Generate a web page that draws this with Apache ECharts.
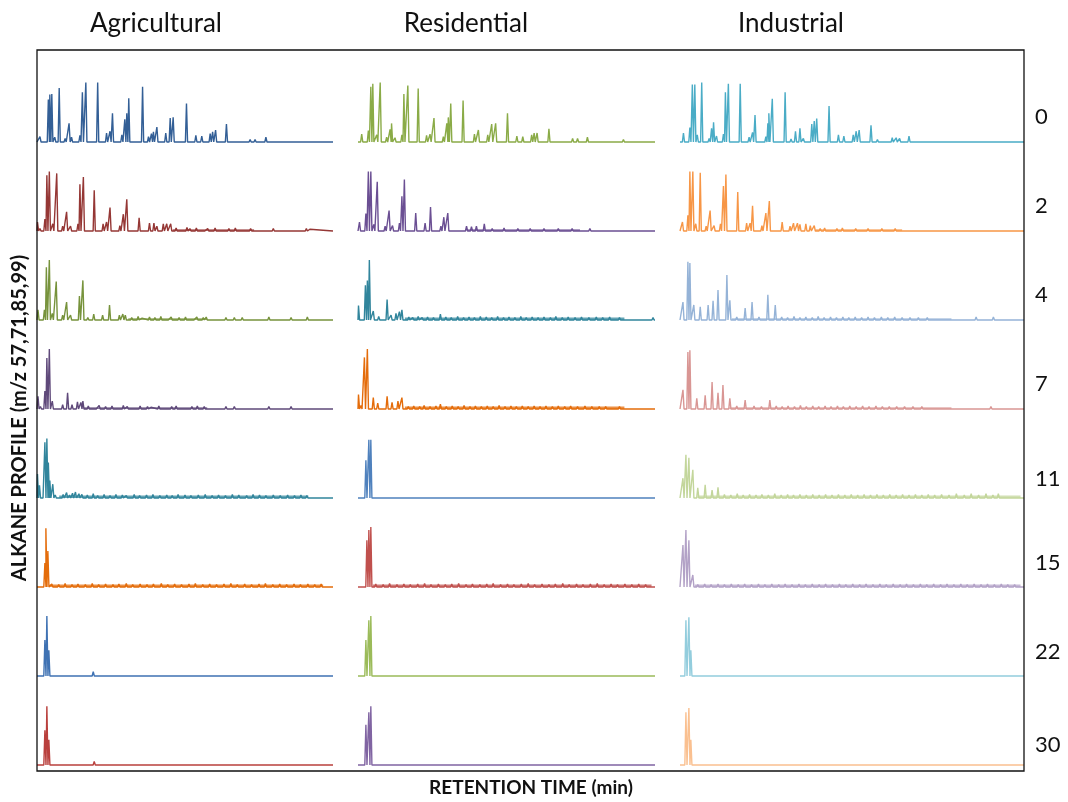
<!DOCTYPE html>
<html><head><meta charset="utf-8">
<script src="https://cdn.jsdelivr.net/npm/echarts@6/dist/echarts.min.js"></script>
<style>html,body{margin:0;padding:0;background:#fff}#c{width:1068px;height:802px}</style>
</head><body><div id="c"></div>
<script>
// Column (land use) and row (day) labels
const landUses = ['Agricultural', 'Residential', 'Industrial'];
const days = ['0', '2', '4', '7', '11', '15', '22', '30'];
const yTitle = 'ALKANE PROFILE (m/z 57,71,85,99)';
const xTitle = 'RETENTION TIME (min)';

// Peaks: [retention time (min), relative abundance (% of panel max)]
// ---- Agricultural ----
const agr0 = [[0.6,9],[2.3,71],[2.6,79],[3.0,80],[3.6,8],[4.5,90],[5.7,6],[6.5,31],[7.0,8],[8.7,11],[9.2,83],[9.9,99],[12.3,99],[14.1,15],[14.8,18],[15.3,48],[17.2,12],[17.8,38],[18.2,48],[18.6,73],[21.4,92],[22.6,9],[23.2,14],[23.6,17],[24.3,25],[26.1,15],[27.0,40],[27.6,41],[30.3,64],[32.2,11],[33.4,10],[35.1,14],[35.6,17],[36.2,20],[38.4,30],[40.1,3],[41.5,2],[43.2,4],[44.2,4],[46.4,8],[48.0,3],[50.0,2],[52.0,3],[54.0,2],[55.5,2],[57.0,2]];
const agr2 = [[0.1,15],[0.6,4],[1.6,20],[2.0,93],[2.5,99],[3.2,12],[4.0,96],[5.2,8],[6.0,32],[6.8,8],[8.3,12],[8.7,78],[9.4,90],[11.6,68],[13.4,12],[14.1,15],[14.8,39],[16.8,9],[17.5,28],[18.2,53],[20.7,22],[22.8,13],[23.7,13],[24.3,8],[25.6,12],[26.3,12],[27.1,12],[28.2,5],[29.1,3],[30.4,6],[31.0,4],[32.3,5],[33.8,3],[34.6,4],[36.1,5],[37.5,3],[38.9,4],[40.2,5],[41.7,3],[43.3,4],[45.8,3],[47.9,4],[52.0,3],[54.6,4],[55.3,3]];
const agr4 = [[0.2,17],[1.5,17],[1.9,88],[2.5,100],[3.1,11],[3.9,64],[5.2,8],[6.0,30],[6.8,8],[8.6,40],[9.3,66],[10.3,4],[11.5,10],[13.3,8],[14.7,25],[16.7,8],[17.4,10],[17.9,8],[19.2,4],[20.5,6],[21.3,3],[22.8,5],[23.9,4],[25.1,6],[26.4,3],[27.2,5],[28.8,4],[30.1,5],[31.6,3],[32.4,5],[33.7,4],[34.3,5],[38.3,4],[40.0,4],[41.6,4],[47.0,5],[51.5,4],[54.8,5]];
const agr7 = [[0.2,21],[0.7,4],[1.6,30],[2.0,85],[2.5,100],[3.1,13],[5.2,7],[6.2,27],[7.1,7],[8.2,12],[8.9,11],[9.3,13],[10.4,5],[11.8,3],[12.6,6],[13.9,4],[15.2,5],[16.1,3],[17.5,6],[18.3,4],[19.8,3],[20.9,5],[22.4,4],[23.1,3],[24.7,5],[25.6,3],[27.3,4],[28.2,5],[29.7,3],[31.4,4],[32.5,5],[33.9,4],[38.3,4],[40.0,4],[47.0,4],[51.5,4]];
const agr11 = [[0.1,40],[0.5,21],[1.0,3],[1.6,93],[2.0,99],[2.3,59],[2.6,29],[3.2,23],[3.7,5],[5.3,6],[6.0,9],[6.6,5],[7.2,8],[7.8,10],[8.5,7],[9.1,6],[10.2,5],[11.4,7],[12.3,4],[13.6,6],[14.8,4],[16.0,6],[17.3,5],[18.1,4],[19.7,6],[20.8,4],[22.2,5],[23.5,6],[24.9,4],[26.3,5],[27.4,4],[28.6,6],[30.0,5],[31.2,4],[32.7,5],[34.1,6],[35.5,4],[36.8,5],[38.2,4],[39.6,6],[40.9,5],[42.5,4],[43.8,6],[45.1,5],[46.4,4],[47.9,5],[49.3,4],[50.8,5],[52.2,4],[53.5,5],[54.7,4]];
const agr15 = [[1.6,40],[1.8,98],[2.2,60],[3.0,5],[4.4,4],[5.7,6],[7.1,4],[8.3,5],[9.8,4],[11.2,6],[12.5,4],[13.9,5],[15.4,4],[16.6,5],[18.1,6],[19.4,4],[20.9,5],[22.3,4],[23.6,5],[25.2,6],[26.5,4],[27.9,5],[29.3,4],[30.8,5],[32.1,6],[33.6,4],[35.0,5],[36.4,4],[37.9,5],[39.3,6],[40.6,4],[42.1,5],[43.5,4],[45.0,5],[46.3,6],[47.8,4],[49.2,5],[50.6,4],[52.1,5],[53.4,4],[54.9,5],[56.3,4],[57.6,5]];
const agr22 = [[1.6,60],[2.0,100],[2.4,43],[11.4,7]];
const agr30 = [[1.6,58],[2.0,98],[2.4,42],[11.6,6]];
// ---- Residential ----
const res0 = [[0.75,13],[2.1,19],[2.6,92],[3.0,97],[3.8,12],[4.5,99],[5.8,8],[6.5,21],[6.8,31],[7.5,7],[8.9,12],[9.3,80],[10.1,94],[12.2,89],[13.9,11],[14.6,13],[15.4,40],[17.3,9],[18.0,31],[18.3,41],[18.8,64],[21.3,69],[23.6,13],[24.4,20],[26.3,12],[27.1,30],[27.9,31],[30.3,48],[32.2,10],[33.4,9],[35.2,12],[35.7,15],[36.3,15],[38.7,22],[40.0,3],[43.5,6],[44.5,6],[46.5,8],[49.0,3],[51.0,3],[53.8,4],[56.0,2],[57.0,2]];
const res2 = [[0.3,15],[1.6,29],[2.1,99],[2.6,99],[3.2,11],[3.9,82],[5.5,8],[6.3,34],[7.0,9],[8.4,13],[8.9,58],[9.4,86],[11.7,30],[13.6,13],[14.7,40],[16.8,8],[17.4,23],[18.2,30],[22.0,8],[23.0,7],[24.0,8],[25.6,12],[27.2,4],[28.3,3],[29.6,5],[30.9,3],[32.4,4],[33.5,3],[34.9,4],[36.3,3],[37.7,4],[39.2,3],[40.6,4],[42.0,3],[43.4,4],[46.1,3],[47.0,4],[50.5,3]];
const res4 = [[0.1,24],[1.5,58],[1.9,66],[2.3,100],[3.1,15],[4.2,6],[5.9,34],[6.7,8],[7.7,11],[8.4,14],[8.9,17],[10.3,5],[11.1,4],[12.2,6],[13.0,4],[14.1,5],[15.3,4],[16.7,10],[17.8,5],[18.9,4],[20.2,6],[21.4,4],[22.5,5],[23.6,4],[24.8,6],[26.0,5],[27.1,4],[28.3,6],[29.5,4],[30.6,5],[31.8,4],[33.0,6],[34.1,4],[35.3,5],[36.5,4],[37.7,5],[39.0,4],[40.1,6],[41.4,4],[42.6,5],[44.0,4],[45.3,5],[46.8,4],[48.3,5],[49.6,4],[51.0,5],[53.0,4],[59.8,4]];
const res7 = [[0.1,24],[0.6,6],[1.3,86],[1.9,100],[3.1,19],[4.0,10],[5.9,21],[6.9,11],[8.1,13],[8.9,19],[10.2,4],[11.3,5],[12.5,4],[13.4,6],[14.6,4],[15.8,5],[16.7,8],[17.9,4],[19.1,5],[20.3,4],[21.5,6],[22.7,4],[23.8,5],[25.0,4],[26.2,5],[27.4,4],[28.6,6],[29.8,4],[31.0,5],[32.1,4],[33.3,5],[34.5,4],[35.7,5],[36.9,4],[38.1,5],[39.4,4],[40.6,5],[41.9,4],[43.1,5],[44.5,4],[46.0,5],[47.4,4],[48.9,4],[50.2,4],[53.0,4]];
const res11 = [[1.6,63],[2.2,97],[2.6,97],[4.5,3],[9.2,2],[14.6,3],[19.8,2],[25.3,3],[31.1,2],[36.7,3],[42.4,2],[48.2,3],[53.6,2]];
const res15 = [[1.8,78],[2.2,95],[2.6,100],[3.6,5],[5.1,4],[6.4,6],[7.9,4],[9.3,5],[10.6,4],[12.1,5],[13.5,6],[14.8,4],[16.3,5],[17.7,4],[19.0,5],[20.4,6],[21.9,4],[23.2,5],[24.7,4],[26.1,5],[27.4,6],[28.9,4],[30.3,5],[31.6,4],[33.1,5],[34.5,6],[35.8,4],[37.3,5],[38.7,4],[40.0,5],[41.5,6],[42.8,4],[44.3,5],[45.6,4],[47.1,5],[48.5,6],[49.9,4],[51.3,5],[52.6,4],[54.1,5],[55.5,4],[56.9,5],[58.3,4]];
const res22 = [[1.6,60],[2.2,93],[2.6,100]];
const res30 = [[1.6,67],[2.2,88],[2.6,98]];
// ---- Industrial ----
const ind0 = [[0.7,15],[2.0,24],[2.5,96],[3.0,96],[3.5,12],[4.4,99],[5.9,6],[6.4,23],[6.8,33],[7.4,10],[8.8,13],[9.2,83],[9.8,97],[12.2,97],[14.0,8],[14.7,16],[15.2,45],[17.4,9],[17.8,31],[18.0,48],[18.7,72],[21.3,83],[22.5,5],[23.4,18],[24.3,23],[25.0,6],[26.7,30],[27.2,35],[27.7,39],[30.2,60],[32.1,12],[33.2,10],[35.1,12],[35.7,18],[36.3,20],[38.7,28],[40.0,4],[43.0,7],[43.8,7],[44.5,6],[46.4,10],[48.0,3],[50.0,3],[51.5,3],[53.7,3],[57.0,2],[58.5,2]];
const ind2 = [[0.5,15],[1.6,26],[2.0,99],[2.6,99],[3.2,12],[4.1,97],[5.3,8],[6.1,34],[6.9,9],[8.2,12],[8.8,75],[9.3,94],[11.7,65],[13.5,13],[14.2,13],[14.7,42],[16.6,9],[17.4,30],[18.1,50],[20.7,15],[22.3,8],[23.0,13],[23.8,13],[24.3,11],[25.5,12],[26.4,9],[27.2,9],[28.4,4],[29.3,5],[30.6,3],[31.8,4],[32.9,5],[34.2,3],[35.6,4],[36.8,3],[38.1,4],[39.5,3],[40.9,4],[42.2,3],[43.6,4],[46.5,3],[50.0,3],[53.5,3]];
const ind4 = [[0.6,30],[1.6,97],[2.0,95],[2.8,25],[4.1,22],[5.7,25],[6.7,32],[7.7,50],[9.5,75],[10.1,33],[11.5,5],[13.2,20],[14.6,30],[16.0,5],[17.8,42],[19.3,25],[20.6,5],[21.8,4],[23.1,6],[24.3,4],[25.5,5],[26.8,4],[28.0,6],[29.2,4],[30.5,5],[31.7,4],[33.0,5],[34.2,4],[35.5,5],[36.8,4],[38.1,5],[39.4,4],[40.8,5],[42.1,4],[43.5,5],[45.0,4],[46.6,4],[48.3,4],[50.1,4],[60.0,5],[63.5,5]];
const ind7 = [[0.6,32],[1.6,95],[2.0,98],[3.4,18],[5.1,23],[6.5,45],[7.7,27],[8.7,40],[10.1,18],[11.5,5],[13.2,15],[15.0,5],[16.5,4],[18.2,15],[19.5,5],[20.7,4],[21.9,5],[23.2,4],[24.4,6],[25.6,4],[26.9,5],[28.1,4],[29.4,5],[30.6,4],[31.9,5],[33.1,4],[34.4,5],[35.7,4],[37.0,5],[38.3,4],[39.7,5],[41.0,4],[42.4,4],[43.9,4],[45.5,4],[47.2,4],[49.0,4],[51.0,3],[55.0,3],[63.0,4]];
const ind11 = [[0.6,33],[1.2,72],[1.8,67],[2.6,47],[3.6,17],[5.1,22],[6.5,13],[7.7,18],[9.0,6],[10.3,5],[11.6,7],[12.8,5],[14.1,6],[15.4,5],[16.6,6],[17.9,5],[19.2,7],[20.5,5],[21.8,6],[23.0,5],[24.3,6],[25.6,5],[26.9,6],[28.2,5],[29.5,6],[30.8,5],[32.1,6],[33.4,5],[34.7,6],[36.0,5],[37.3,6],[38.6,5],[39.9,6],[41.2,5],[42.5,6],[43.8,5],[45.1,6],[46.4,5],[47.7,6],[49.0,5],[50.3,6],[51.6,5],[53.0,6],[54.5,5],[56.0,7],[57.6,5],[59.0,7],[60.5,5],[62.0,7],[63.4,5],[64.5,7]];
const ind15 = [[0.6,70],[1.2,95],[1.8,78],[2.6,20],[3.6,4],[5.0,5],[6.3,4],[7.7,5],[9.0,4],[10.4,5],[11.8,4],[13.1,5],[14.5,4],[15.9,5],[17.2,4],[18.6,5],[20.0,4],[21.3,5],[22.7,4],[24.1,5],[25.4,4],[26.8,5],[28.2,4],[29.5,5],[30.9,4],[32.3,5],[33.6,4],[35.0,5],[36.4,4],[37.7,5],[39.1,4],[40.5,5],[41.8,4],[43.2,5],[44.6,4],[45.9,5],[47.3,4],[48.7,5],[50.0,4],[51.4,5],[52.8,4],[54.1,5],[55.5,4],[56.9,5],[58.2,4],[59.6,5],[61.0,4],[62.3,5],[63.7,4],[65.1,5],[66.4,4],[67.8,4]];
const ind22 = [[1.2,93],[1.8,98],[2.2,43]];
const ind30 = [[1.2,88],[1.8,95],[2.2,42]];

// Baseline noise bands: [start min, end min, amplitude %]
const agr2Noise = [[27.5, 44, 3]];
const agr4Noise = [[18.5, 34.5, 3]];
const agr7Noise = [[9.5, 34.5, 3]];
const agr11Noise = [[4.5, 55, 4]];
const agr15Noise = [[2.5, 58, 4]];
const res2Noise = [[22, 45, 3]];
const res4Noise = [[9.5, 54, 4]];
const res7Noise = [[9.5, 54, 4]];
const res15Noise = [[3, 59.5, 4]];
const ind2Noise = [[27.5, 45, 3]];
const ind4Noise = [[10.5, 55, 3]];
const ind7Noise = [[10, 55, 3]];
const ind11Noise = [[3.5, 69, 4]];
const ind15Noise = [[3, 69, 4]];

const panels = [
  [agr0, res0, ind0], [agr2, res2, ind2], [agr4, res4, ind4], [agr7, res7, ind7],
  [agr11, res11, ind11], [agr15, res15, ind15], [agr22, res22, ind22], [agr30, res30, ind30]
];
const noise = [
  [[], [], []], [agr2Noise, res2Noise, ind2Noise], [agr4Noise, res4Noise, ind4Noise], [agr7Noise, res7Noise, ind7Noise],
  [agr11Noise, [], ind11Noise], [agr15Noise, res15Noise, ind15Noise], [[], [], []], [[], [], []]
];
const colors = [
  ['#335f96', '#8aab47', '#4aacc6'],
  ['#953735', '#6b4f93', '#f79646'],
  ['#77933c', '#31859c', '#95b3d7'],
  ['#5f497a', '#e46c0a', '#d99694'],
  ['#31859c', '#4f81bd', '#c3d69b'],
  ['#e46c0a', '#c0504d', '#b3a2c7'],
  ['#3f72b3', '#9bbb59', '#93cddd'],
  ['#b9403d', '#8064a2', '#fac090']
];

// layout
const colLeft = [37, 358, 680];
const colWidth = [296, 297, 344];
const xMax = [60, 60.2, 69.7];
const rowBase0 = 142, rowStep = 89, panelH = 60;
const halfW = 0.22;

function toLine(peaks, max) {
  const sorted = peaks.slice().sort((a, b) => a[0] - b[0]);
  const out = [[0, 0]];
  sorted.forEach(([t, h]) => { out.push([Math.max(0, t - halfW), 0], [t, h], [t + halfW, 0]); });
  out.push([max, 0]);
  return out;
}

const grid = [], xAxis = [], yAxis = [], series = [];
panels.forEach((row, r) => {
  row.forEach((peaks, c) => {
    const i = r * 3 + c;
    const base = rowBase0 + r * rowStep;
    grid.push({ left: colLeft[c], top: base - panelH, width: colWidth[c], height: panelH });
    xAxis.push({ gridIndex: i, type: 'value', min: 0, max: xMax[c], show: false });
    yAxis.push({ gridIndex: i, type: 'value', min: 0, max: 100, show: false });
    series.push({
      type: 'line', xAxisIndex: i, yAxisIndex: i, data: toLine(peaks, xMax[c]),
      showSymbol: false, symbol: 'none', silent: true, clip: false,
      lineStyle: { color: colors[r][c], width: 1.4 },
      markArea: {
        silent: true,
        itemStyle: { color: colors[r][c], opacity: 0.75 },
        data: noise[r][c].map(([s, e, a]) => [{ xAxis: s, yAxis: 0 }, { xAxis: e, yAxis: a }])
      }
    });
  });
});

const graphic = [
  { type: 'rect', shape: { x: 37, y: 50, width: 987, height: 721 }, style: { fill: 'none', stroke: '#111', lineWidth: 1.3 }, z: 10 },
  { type: 'text', x: 20, y: 418, rotation: Math.PI / 2, style: { text: yTitle, font: 'bold 20px Lato', fill: '#111', textAlign: 'center', textVerticalAlign: 'middle' } },
  { type: 'text', x: 531, y: 788, style: { text: xTitle, font: 'bold 19px Lato', fill: '#111', textAlign: 'center', textVerticalAlign: 'middle' } }
];
const titleX = [156, 466, 791];
landUses.forEach((t, c) => graphic.push({ type: 'text', x: titleX[c], y: 24, style: { text: t, font: '26px Lato', fill: '#111', textAlign: 'center', textVerticalAlign: 'middle' } }));
const labelY = [117, 206, 295, 384, 479, 563, 652, 745];
days.forEach((d, r) => graphic.push({ type: 'text', x: 1035, y: labelY[r], style: { text: d, font: '22px Lato', fill: '#111', textAlign: 'left', textVerticalAlign: 'middle' } }));

const chart = echarts.init(document.getElementById('c'), null, { renderer: 'canvas' });
chart.setOption({ animation: false, grid, xAxis, yAxis, series, graphic });
</script></body></html>
